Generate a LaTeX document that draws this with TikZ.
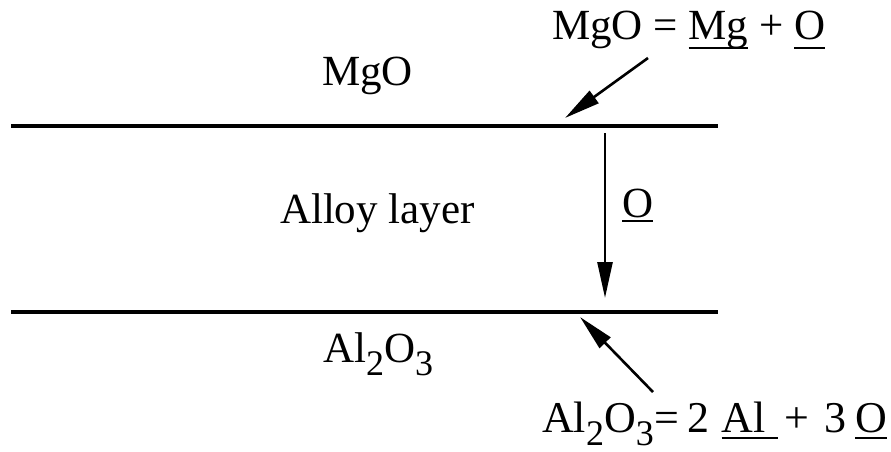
\documentclass[tikz,border=0pt]{standalone}
\usepackage{fontspec}
\setmainfont{Liberation Serif}
\usetikzlibrary{arrows.meta}
\newsavebox\ulbox
\newcommand\ulx[2][9pt]{\sbox\ulbox{#2}\rlap{\rule[-#1]{\wd\ulbox}{2pt}}\usebox\ulbox}
\newcommand\subx[1]{\raisebox{-13pt}{\fontsize{36}{36}\selectfont #1}}
\tikzset{
  lbl/.style={anchor=base west, inner sep=0pt, outer sep=0pt, font=\fontsize{43}{50}\selectfont},
  layer/.style={line width=3.2pt},
  arr/.style={line width=2.6pt, -{Triangle[length=36pt,width=15pt]}}
}
\begin{document}
\begin{tikzpicture}[x=1pt,y=-1pt]
\useasboundingbox (0,0) rectangle (891,452);
% layer boundaries
\coordinate (l1a) at (11,126); \coordinate (l1b) at (718,126);
\coordinate (l2a) at (11,312); \coordinate (l2b) at (718,312);
\draw[layer] (l1a) -- (l1b);
\draw[layer] (l2a) -- (l2b);
% labels
\node[lbl] (mgo) at (322,85) {MgO};
\node[lbl] (alloy) at (280,223) {Alloy layer};
\node[lbl] (al2o3) at (323,362) {Al\subx{2}O\subx{3}};
\node[lbl] (eqtop) at (552,40) {MgO = \ulx{Mg} + \ulx{O}};
\node[lbl, font=\fontsize{44}{50}\selectfont] (eqbot) at (542,432) {Al\subx{2}O\subx{3}\kern1pt=\hspace{8pt}2\hspace{12pt}\ulx[7pt]{Al\kern12pt}\hspace{7pt}+\hspace{15pt}3\hspace{9pt}\ulx[7pt]{O}};
\node[lbl] (olbl) at (622,217) {\ulx[5pt]{O}};
% arrows
\coordinate (t1) at (648,58); \coordinate (h1) at (565,118);
\coordinate (t2) at (605,133); \coordinate (h2) at (605,298);
\coordinate (t3) at (653,392); \coordinate (h3) at (580,317);
\draw[arr] (t1) -- (h1);
\draw[arr] (t2) -- (h2);
\draw[arr] (t3) -- (h3);
\end{tikzpicture}
\end{document}
